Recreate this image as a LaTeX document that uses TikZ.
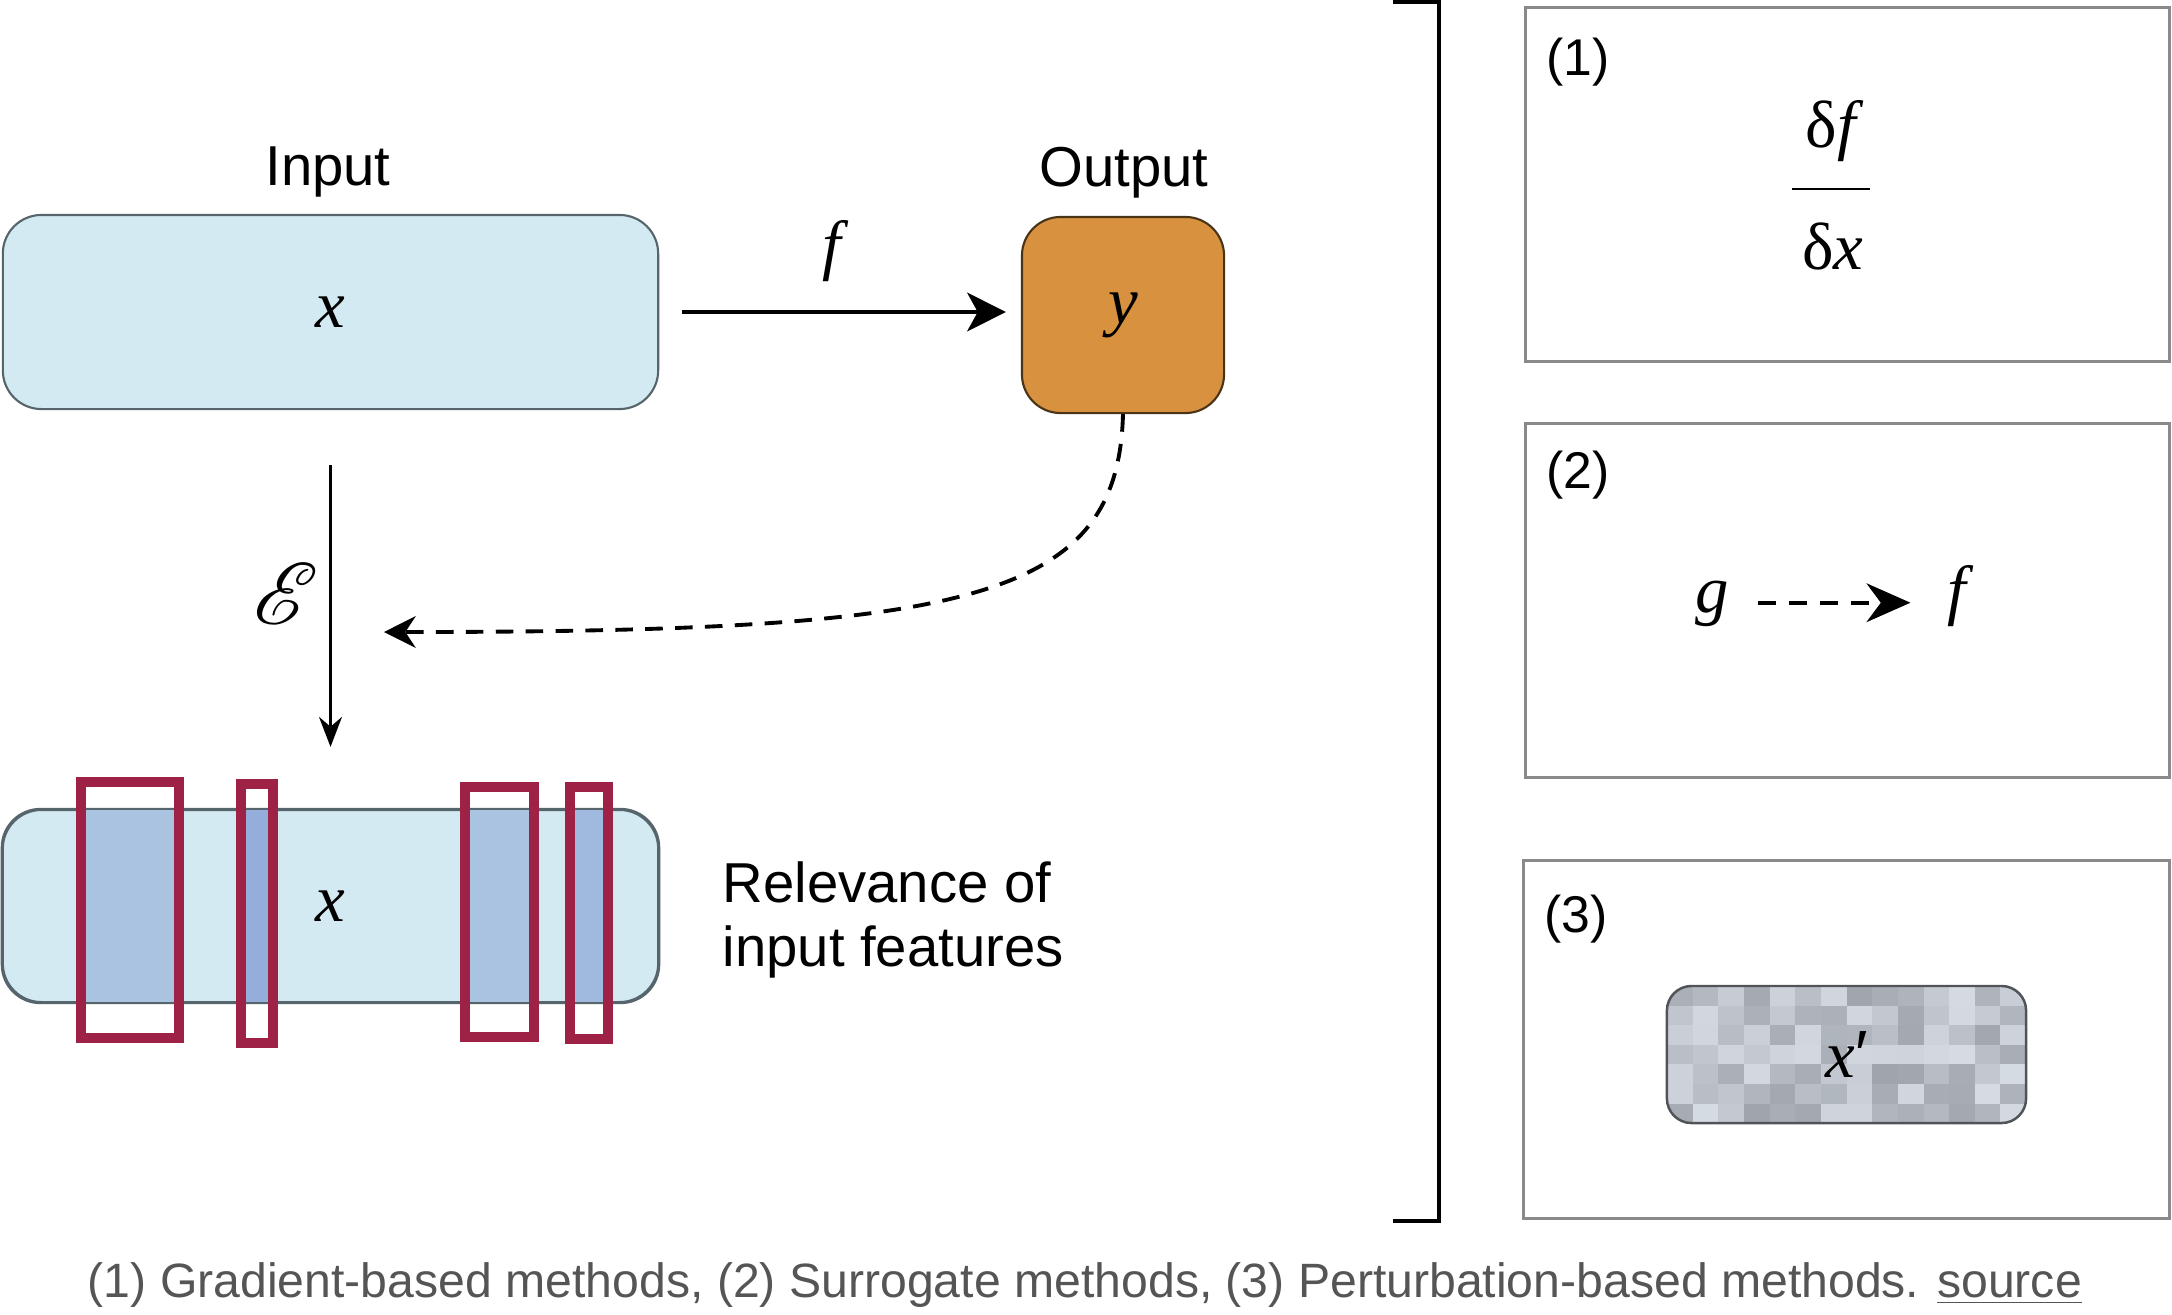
\documentclass[tikz,border=0pt]{standalone}
\usepackage{fontspec}
\setmainfont{Liberation Sans}
\newfontfamily\timesfont{Liberation Serif}
\usepackage{mathrsfs}
\usetikzlibrary{arrows.meta}

\definecolor{inputblue}{HTML}{D3EAF2}
\definecolor{boxedge}{HTML}{55656B}
\definecolor{outorange}{HTML}{D8913F}
\definecolor{outedge}{HTML}{4A3418}
\definecolor{relred}{HTML}{9E2146}
\definecolor{bandblue}{HTML}{A9C3E0}
\definecolor{banddark}{HTML}{94ADDA}
\definecolor{bandmid}{HTML}{A0BADF}
\definecolor{frameg}{HTML}{8A8A8A}
\definecolor{pixlight}{HTML}{DDE2EA}
\definecolor{pixdark}{HTML}{989DA6}
\definecolor{pixedge}{HTML}{505458}
\definecolor{capgray}{HTML}{555555}

\newcommand{\tvar}[1]{{\timesfont\itshape #1}}
\newcommand{\tdelta}{{\timesfont δ}}

\tikzset{
  inbox/.style={draw=boxedge, line width=0.6pt, fill=inputblue, rounded corners=11pt, inner sep=0pt},
  outbox/.style={draw=outedge, line width=0.6pt, fill=outorange, rounded corners=11pt, inner sep=0pt},
  methodbox/.style={draw=frameg, line width=0.85pt, inner sep=0pt, minimum width=6.43cm, minimum height=3.53cm},
  pixbox/.style={draw=pixedge, line width=0.7pt, rounded corners=7pt, inner sep=0pt},
  mathlabel/.style={font=\fontsize{19}{22}\selectfont, inner sep=0pt},
  headlabel/.style={font=\fontsize{16}{18}\selectfont, inner sep=0pt},
  numlabel/.style={font=\fontsize{14.7}{17}\selectfont, inner sep=0pt},
  relbox/.style={draw=relred, line width=2.6pt},
  sidebracket/.style={line width=0.9pt},
  flowarrow/.style={line width=1.2pt, -{Stealth[length=11pt, width=11pt, inset=3pt]}},
  explarrow/.style={line width=0.9pt, -{Stealth[length=8.5pt, width=6.5pt]}},
  backarrow/.style={line width=1.1pt, dash pattern=on 5pt off 3.5pt, -{Stealth[length=9pt, width=9pt]}},
  surarrow/.style={line width=1.1pt, dash pattern=on 5.2pt off 3.6pt, -{Stealth[length=12.5pt, width=11pt]}},
}

\begin{document}
\begin{tikzpicture}[x=0.01cm, y=-0.01cm]
\useasboundingbox (0,0) rectangle (2172,1314);

\node[inbox, mathlabel, minimum width=6.55cm, minimum height=1.94cm] (input) at (330.5,312) {\tvar{x}};
\node[headlabel, anchor=base] (inlabel) at (328,185) {Input};
\node[outbox, mathlabel, minimum width=2.02cm, minimum height=1.96cm] (output) at (1123,315) {\tvar{y}};
\node[headlabel, anchor=base] (outlabel) at (1124,186) {Output};
\draw[flowarrow, shorten <=0.23cm, shorten >=0.15cm] (input) -- (input -| output.west);
\node[mathlabel] (flabel) at (832,251) {\tvar{f}};

\node[inbox, mathlabel, minimum width=6.55cm, minimum height=1.92cm] (rel) at (330.5,906) {\tvar{x}};
\draw[explarrow, shorten <=0.55cm, shorten >=0.62cm] (input) -- (rel);
\node[font=\fontsize{24}{26}\selectfont, inner sep=0pt] (expl) at (286,594) {$\mathscr{E}$};

\coordinate (relin) at (384,632);
\draw[backarrow] (output.south) .. controls (1118,600) and (970,632) .. (relin);

\begin{scope}
\clip[rounded corners=11pt] (rel.south west) rectangle (rel.north east);
\foreach \xa/\xb/\shade in {81/179/bandblue, 241/273/banddark, 465/534/bandblue, 570/608/bandmid}
  \fill[\shade] (\xa,810) rectangle (\xb,1002);
\end{scope}
\draw[boxedge, line width=0.6pt, rounded corners=11pt] (rel.south west) rectangle (rel.north east);
\foreach \xa/\ya/\xb/\yb in {81/782/179/1038, 241/784/273/1043, 465/787/534/1037, 570/787/608/1039}
  \draw[relbox] (\xa,\ya) rectangle (\xb,\yb);
\node[headlabel, anchor=base west, align=left] (rellabel) at (722,966) {Relevance of\\input features};

\draw[sidebracket] (1393,2) -- (1439,2) -- (1439,1221) -- (1393,1221);

\node[methodbox] (grad) at (1847.5,184.5) {};
\node[numlabel] (gradnum) at (1578,62) {(1)};
\node[mathlabel, anchor=base] (dnum) at (1831,147) {\tdelta\tvar{f}};
\draw[line width=0.6pt] (1792,189) -- (1870,189);
\node[mathlabel, anchor=base] (dden) at (1833,269) {\tdelta\tvar{x}};

\node[methodbox] (surr) at (1847.5,600.5) {};
\node[numlabel] (surrnum) at (1578,475) {(2)};
\node[mathlabel, anchor=base] (g) at (1712,612) {\tvar{g}};
\node[mathlabel, anchor=base] (f2) at (1957,612) {\tvar{f}};
\draw[surarrow, shorten <=0.285cm, shorten >=0.365cm] (g.mid east) -- (f2.mid west);

\node[methodbox, minimum width=6.45cm, minimum height=3.57cm] (pert) at (1846.5,1039.5) {};
\node[numlabel] (pertnum) at (1576,919) {(3)};
\begin{scope}
\clip[rounded corners=7pt] (1667,986) rectangle (2026,1123);
\pgfmathsetseed{42}
\foreach \i in {0,...,13}
  \foreach \j in {0,...,6}{
    \pgfmathsetmacro{\shade}{int(random(10,90))}
    \fill[pixdark!\shade!pixlight] ({1667+25.65*\i},{986+19.6*\j}) rectangle ++(26.2,20.2);
  }
\end{scope}
\node[pixbox, mathlabel, minimum width=3.59cm, minimum height=1.37cm] (xprime) at (1846.5,1054.5) {\tvar{x}′};

\node[font=\fontsize{13.7}{16}\selectfont, text=capgray, anchor=base, inner sep=0pt] (caption) at (1085,1297) {(1) Gradient-based methods, (2) Surrogate methods, (3) Perturbation-based methods. \underline{source}};
\end{tikzpicture}
\end{document}
